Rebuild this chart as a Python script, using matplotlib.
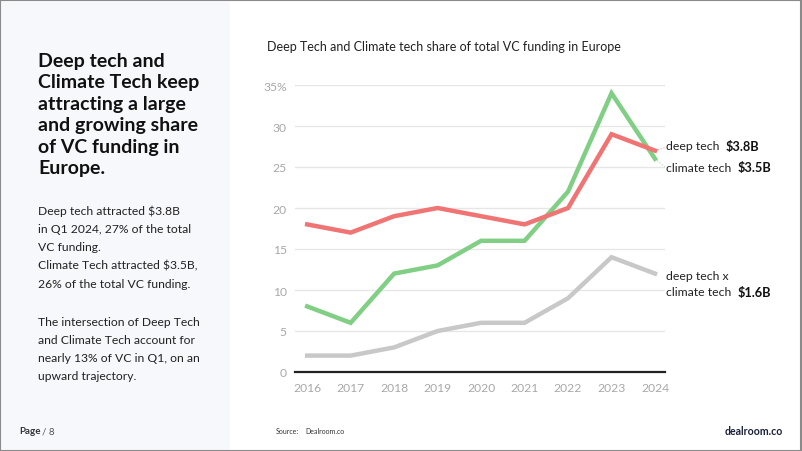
import matplotlib
matplotlib.use("Agg")
import matplotlib.pyplot as plt
from matplotlib.patches import Rectangle

plt.rcParams['font.family'] = ['Lato', 'DejaVu Sans']

years = [2016, 2017, 2018, 2019, 2020, 2021, 2022, 2023, 2024]
deep_tech = [18, 17, 19, 20, 19, 18, 20, 29, 27]
climate_tech = [8, 6, 12, 13, 16, 16, 22, 34, 26]
deep_x_climate = [2, 2, 3, 5, 6, 6, 9, 14, 12]
y_ticks = [0, 5, 10, 15, 20, 25, 30, 35]
y_tick_labels = ["0", "5", "10", "15", "20", "25", "30", "35%"]

W, H = 802, 452
fig = plt.figure(figsize=(W / 100, H / 100), dpi=100)
fig.patch.set_facecolor("white")

def fx(x):
    return x / W

def fy(y):
    return 1 - y / H

# left panel
fig.add_artist(Rectangle((0, 0), fx(230), 1, transform=fig.transFigure,
                         facecolor="#f7f8fc", edgecolor="none", zorder=0))
# border
fig.add_artist(Rectangle((0.0005, 0.001), 0.998, 0.997, transform=fig.transFigure,
                         facecolor="none", edgecolor="#8a8a8a", linewidth=1.5, zorder=10))

ax = fig.add_axes([fx(295), fy(373), fx(665) - fx(295), fy(86) - fy(373)])
ax.set_facecolor("none")
ax.set_xlim(2015.72, 2024.23)
ax.set_ylim(0, 35)

for t in y_ticks[1:]:
    ax.axhline(t, color="#e6e6e6", linewidth=1.0, zorder=1)
ax.axhline(0, color="#222222", linewidth=1.6, zorder=5, clip_on=False)

lw = 3.2
ax.plot(years, deep_x_climate, color="#c8c8c8", linewidth=lw, zorder=3, solid_joinstyle="miter")
ax.plot(years, climate_tech, color="#80cf85", linewidth=lw, zorder=3, solid_joinstyle="miter")
ax.plot(years, deep_tech, color="#f07474", linewidth=lw, zorder=4, solid_joinstyle="miter")

ax.set_yticks(y_ticks)
ax.set_yticklabels(y_tick_labels)
ax.set_xticks(years)
ax.set_xticklabels([str(y) for y in years])
ax.tick_params(axis="both", length=0, colors="#a8a8a8", labelsize=8.7)
ax.tick_params(axis="y", pad=6)
ax.tick_params(axis="x", pad=7)
for s in ax.spines.values():
    s.set_visible(False)

# connectors
ax.plot([years[-1], 2024.25], [deep_tech[-1], 27.4], color="#f0a0a0", linewidth=0.8,
        linestyle=":", clip_on=False)
ax.plot([years[-1], 2024.25], [climate_tech[-1], 24.9], color="#b0d8b0", linewidth=0.8,
        linestyle=":", clip_on=False)

# annotations
lab_fs = 8.8
fig.text(fx(666), fy(147), "deep tech", fontsize=lab_fs, color="#222222", va="center")
fig.text(fx(726), fy(147), "$3.8B", fontsize=9.2, color="#111111", va="center", fontweight="bold")
fig.text(fx(666), fy(168), "climate tech", fontsize=lab_fs, color="#222222", va="center")
fig.text(fx(738), fy(168), "$3.5B", fontsize=9.2, color="#111111", va="center", fontweight="bold")
fig.text(fx(666), fy(277), "deep tech x", fontsize=lab_fs, color="#222222", va="center")
fig.text(fx(666), fy(293), "climate tech", fontsize=lab_fs, color="#222222", va="center")
fig.text(fx(738), fy(293), "$1.6B", fontsize=9.2, color="#111111", va="center", fontweight="bold")

# chart title
fig.text(fx(267), fy(47), "Deep Tech and Climate tech share of total VC funding in Europe",
         fontsize=9, color="#222222", va="center")

# left heading
heading = ["Deep tech and", "Climate Tech keep", "attracting a large",
           "and growing share", "of VC funding in", "Europe."]
for i, line in enumerate(heading):
    fig.text(fx(38), fy(61 + i * 21.6), line, fontsize=14, fontweight="bold",
             color="#111111", va="center")

body1 = ["Deep tech attracted $3.8B", "in Q1 2024, 27% of the total", "VC funding.",
         "Climate Tech attracted $3.5B,", "26% of the total VC funding."]
for i, line in enumerate(body1):
    fig.text(fx(38), fy(211 + i * 18.3), line, fontsize=8.7, color="#222222", va="center")
body2 = ["The intersection of Deep Tech", "and Climate Tech account for",
         "nearly 13% of VC in Q1, on an", "upward trajectory."]
for i, line in enumerate(body2):
    fig.text(fx(38), fy(322 + i * 18.3), line, fontsize=8.7, color="#222222", va="center")

# footer
fig.text(fx(19), fy(432), "Page", fontsize=7, fontweight="bold", color="#333333", va="center")
fig.text(fx(42), fy(432), "/ 8", fontsize=7, color="#555555", va="center")
fig.text(fx(276), fy(432), "Source:", fontsize=5, color="#333333", va="center")
fig.text(fx(305), fy(432), "Dealroom.co", fontsize=5, color="#333333", va="center")
fig.text(fx(783), fy(432), "dealroom.co", fontsize=7.6, fontweight="bold", color="#1a1f3a",
         va="center", ha="right")

fig.savefig("out.png", dpi=100)
